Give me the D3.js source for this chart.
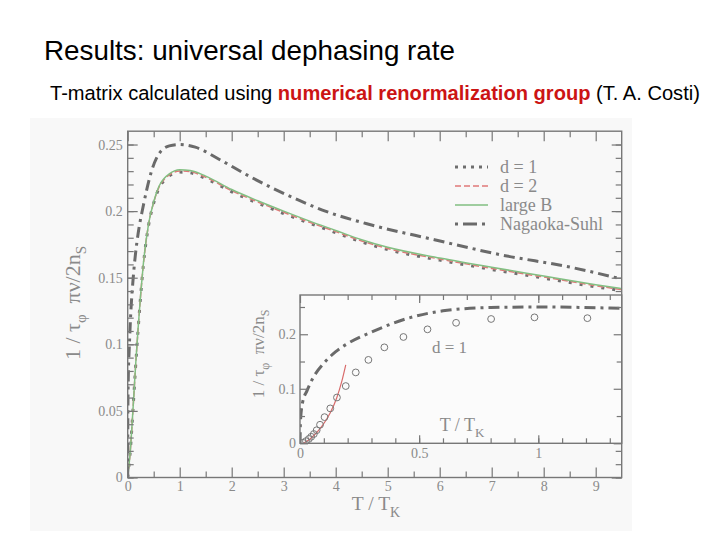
<!DOCTYPE html>
<html>
<head>
<meta charset="utf-8">
<script src="https://cdnjs.cloudflare.com/ajax/libs/d3/7.8.5/d3.min.js"></script>
<style>
  body { margin: 0; background: #fff; }
  text { white-space: pre; }
</style>
</head>
<body>
<div id="chart"></div>
<script>
// ---- data ----
var mainT  = [0, 0.05, 0.1, 0.15, 0.2, 0.25, 0.3, 0.4, 0.5, 0.6, 0.7, 0.8, 0.9, 1.0, 1.2, 1.5, 2, 2.5, 3, 3.5, 4, 4.5, 5, 6, 7, 8, 9, 9.5];
var largeB = [0, 0.02, 0.05, 0.083, 0.112, 0.138, 0.16, 0.19, 0.207, 0.2185, 0.2245, 0.228, 0.2302, 0.231, 0.2305, 0.2263, 0.2162, 0.2078, 0.2, 0.1925, 0.1855, 0.1785, 0.1728, 0.1648, 0.1578, 0.1513, 0.1448, 0.1418];
var dTwo   = [0, 0.02, 0.05, 0.0825, 0.1115, 0.1375, 0.1595, 0.1895, 0.2065, 0.2178, 0.2238, 0.2272, 0.2293, 0.2301, 0.2296, 0.2254, 0.2153, 0.2069, 0.1991, 0.1916, 0.1846, 0.1776, 0.1719, 0.164, 0.157, 0.1505, 0.144, 0.141];
var dOne   = [0, 0.02, 0.05, 0.082, 0.111, 0.137, 0.159, 0.189, 0.206, 0.217, 0.223, 0.2265, 0.2285, 0.2293, 0.2288, 0.2245, 0.2145, 0.206, 0.1982, 0.1908, 0.1838, 0.1768, 0.1711, 0.1632, 0.1562, 0.1497, 0.1432, 0.1402];

var nsT = [0, 0.002, 0.01, 0.03, 0.06, 0.1, 0.15, 0.2, 0.3, 0.45, 0.6, 0.8, 1.0, 1.3, 1.8, 2.3, 2.8, 3.3, 3.8, 4.6, 5.9, 7.2, 8.5, 9.5];
var nsV = [0, 0.04, 0.073, 0.097, 0.124, 0.147, 0.168, 0.183, 0.204, 0.229, 0.243, 0.249, 0.25, 0.248, 0.238, 0.227, 0.217, 0.208, 0.2, 0.1905, 0.1785, 0.167, 0.158, 0.149];

// inset: NRG points for d = 1 and the low-T fit
var circT = [0.012, 0.025, 0.037, 0.047, 0.058, 0.07, 0.084, 0.103, 0.127, 0.155, 0.192, 0.234, 0.287, 0.354, 0.434, 0.535, 0.655, 0.802, 0.984, 1.206];
var circV = [0.001, 0.004, 0.008, 0.012, 0.017, 0.024, 0.034, 0.048, 0.064, 0.084, 0.105, 0.13, 0.153, 0.176, 0.195, 0.209, 0.221, 0.228, 0.231, 0.2295];
var fitT = [0.014, 0.03, 0.055, 0.09, 0.126, 0.154, 0.175, 0.192];
var fitV = [0, 0.004, 0.013, 0.03, 0.055, 0.083, 0.113, 0.144];

var legendNames = ["d = 1", "d = 2", "large B", "Nagaoka-Suhl"];

var mainXTicks = [0, 1, 2, 3, 4, 5, 6, 7, 8, 9];
var mainYTicks = [0, 0.05, 0.1, 0.15, 0.2, 0.25];
var insetXTicks = [0, 0.5, 1];
var insetYTicks = [0, 0.1, 0.2];

// ---- styles ----
var axisCol = "#777", labelCol = "#8a8a8a", serif = "'Liberation Serif', 'DejaVu Serif', serif";
var styles = {
  "d = 1":        {stroke: "#6e6e6e", width: 3,   dash: "3,8"},
  "d = 2":        {stroke: "#e07878", width: 1.5, dash: "6,3"},
  "large B":      {stroke: "#82bf82", width: 1.5, dash: null},
  "Nagaoka-Suhl": {stroke: "#6a6a6a", width: 3,   dash: "11,5,3,5"}
};

var svg = d3.select("#chart").append("svg")
    .attr("width", 720).attr("height", 540);

// slide text
svg.append("text")
    .attr("x", 44).attr("y", 60)
    .attr("font-family", "'Liberation Sans', Arial, sans-serif")
    .attr("font-size", 27.8)
    .text("Results: universal dephasing rate");

var sub = svg.append("text")
    .attr("x", 50).attr("y", 100)
    .attr("font-family", "'Liberation Sans', Arial, sans-serif")
    .attr("font-size", 20.1);
sub.append("tspan").text("T-matrix calculated using ");
sub.append("tspan").attr("fill", "#cc1414").attr("font-weight", "bold").text("numerical renormalization group");
sub.append("tspan").text(" (T. A. Costi)");

// figure panel
svg.append("rect")
    .attr("x", 30).attr("y", 118).attr("width", 602).attr("height", 413)
    .attr("fill", "#f8f8f8");

// ---- main plot ----
var x = d3.scaleLinear().domain([0, 9.5]).range([127.7, 621.7]);
var y = d3.scaleLinear().domain([0, 0.26]).range([477.5, 131.2]);

function frameAxes(g, xs, ys, opt) {
  var x0 = xs.range()[0], x1 = xs.range()[1], y0 = ys.range()[0], y1 = ys.range()[1];
  var fontSize = opt.fontSize;
  function clean(sel) {
    sel.select(".domain").remove();
    sel.selectAll("line").attr("stroke", axisCol).attr("stroke-width", 1.2);
    sel.selectAll("text").attr("fill", labelCol).attr("font-family", serif).attr("font-size", fontSize);
  }
  // minor ticks, all four sides
  g.append("g").attr("transform", "translate(0," + y0 + ")")
    .call(d3.axisBottom(xs).tickValues(opt.xMinor).tickSize(-opt.minor).tickFormat("")).call(clean);
  g.append("g").attr("transform", "translate(0," + y1 + ")")
    .call(d3.axisTop(xs).tickValues(opt.xMinor).tickSize(-opt.minor).tickFormat("")).call(clean);
  g.append("g").attr("transform", "translate(" + x0 + ",0)")
    .call(d3.axisLeft(ys).tickValues(opt.yMinor).tickSize(-opt.minor).tickFormat("")).call(clean);
  g.append("g").attr("transform", "translate(" + x1 + ",0)")
    .call(d3.axisRight(ys).tickValues(opt.yMinor).tickSize(-opt.minor).tickFormat("")).call(clean);
  // major ticks with labels
  g.append("g").attr("transform", "translate(0," + y0 + ")")
    .call(d3.axisBottom(xs).tickValues(opt.xMajor).tickSize(-opt.major).tickPadding(opt.xPad).tickFormat(d3.format(""))).call(clean);
  g.append("g").attr("transform", "translate(0," + y1 + ")")
    .call(d3.axisTop(xs).tickValues(opt.xMajor).tickSize(-opt.major).tickFormat("")).call(clean);
  g.append("g").attr("transform", "translate(" + x0 + ",0)")
    .call(d3.axisLeft(ys).tickValues(opt.yMajor).tickSize(-opt.major).tickPadding(opt.yPad).tickFormat(d3.format(""))).call(clean);
  g.append("g").attr("transform", "translate(" + x1 + ",0)")
    .call(d3.axisRight(ys).tickValues(opt.yMajor).tickSize(-opt.major).tickFormat("")).call(clean);
  g.append("rect")
    .attr("x", x0).attr("y", y1).attr("width", x1 - x0).attr("height", y0 - y1)
    .attr("fill", "none").attr("stroke", axisCol).attr("stroke-width", 1.4);
}

svg.append("clipPath").attr("id", "clipMain").append("rect")
    .attr("x", 127.7).attr("y", 131.2).attr("width", 494).attr("height", 346.3);

var mainSeries = [
  {name: "d = 1", t: mainT, v: dOne},
  {name: "d = 2", t: mainT, v: dTwo},
  {name: "large B", t: mainT, v: largeB},
  {name: "Nagaoka-Suhl", t: nsT, v: nsV}
];

var lineMain = d3.line()
    .x(function(d) { return x(d[0]); })
    .y(function(d) { return y(d[1]); })
    .curve(d3.curveMonotoneX);

svg.append("g").attr("clip-path", "url(#clipMain)")
  .selectAll("path")
  .data(mainSeries)
  .enter().append("path")
    .attr("d", function(s) { return lineMain(d3.zip(s.t, s.v)); })
    .attr("fill", "none")
    .attr("stroke", function(s) { return styles[s.name].stroke; })
    .attr("stroke-width", function(s) { return styles[s.name].width; })
    .attr("stroke-dasharray", function(s) { return styles[s.name].dash; });

frameAxes(svg.append("g"), x, y, {
  xMajor: mainXTicks, xMinor: d3.range(0.5, 9.5, 1),
  yMajor: mainYTicks, yMinor: d3.range(0, 0.26, 0.01),
  major: 10, minor: 6, xPad: 3.5, yPad: 5, fontSize: 14
});

// legend
var legend = svg.append("g")
  .selectAll("g")
  .data(legendNames)
  .enter().append("g")
    .attr("transform", function(d, i) { return "translate(455," + (167 + i * 19) + ")"; });

legend.append("line")
    .attr("x1", 0).attr("x2", 33)
    .attr("stroke", function(d) { return styles[d].stroke; })
    .attr("stroke-width", function(d) { return styles[d].width; })
    .attr("stroke-dasharray", function(d) { return d == "d = 1" ? "3,5" : d == "Nagaoka-Suhl" ? "3,5,14,5" : styles[d].dash; });

legend.append("text")
    .attr("x", 45).attr("y", 6)
    .attr("fill", labelCol)
    .attr("font-family", serif)
    .attr("font-size", 18)
    .text(function(d) { return d; });

// axis labels, main
var ylab = svg.append("text")
    .attr("transform", "translate(80,303) rotate(-90)")
    .attr("text-anchor", "middle")
    .attr("fill", labelCol).attr("font-family", serif).attr("font-size", 22);
ylab.append("tspan").text("1 / τ");
ylab.append("tspan").attr("font-size", 15).attr("dy", 6).text("φ");
ylab.append("tspan").attr("dy", -6).text("  πν/2n");
ylab.append("tspan").attr("font-size", 15).attr("dy", 6).text("S");

var xlab = svg.append("text")
    .attr("x", 376).attr("y", 510)
    .attr("text-anchor", "middle")
    .attr("fill", labelCol).attr("font-family", serif).attr("font-size", 19.5);
xlab.append("tspan").text("T / T");
xlab.append("tspan").attr("font-size", 14).attr("dy", 7).text("K");

// ---- inset ----
var xi = d3.scaleLinear().domain([0, 1.35]).range([300, 621.7]);
var yi = d3.scaleLinear().domain([0, 0.272]).range([443.3, 295]);

svg.append("rect")
    .attr("x", 300).attr("y", 295).attr("width", 321.7).attr("height", 148.3)
    .attr("fill", "#fbfbfb");

svg.append("clipPath").attr("id", "clipInset").append("rect")
    .attr("x", 300).attr("y", 295).attr("width", 321.7).attr("height", 148.3);

var gi = svg.append("g").attr("clip-path", "url(#clipInset)");

var lineInset = d3.line()
    .x(function(d) { return xi(d[0]); })
    .y(function(d) { return yi(d[1]); })
    .curve(d3.curveMonotoneX);

gi.append("path")
    .attr("d", lineInset(d3.zip(nsT, nsV)))
    .attr("fill", "none")
    .attr("stroke", styles["Nagaoka-Suhl"].stroke)
    .attr("stroke-width", 3)
    .attr("stroke-dasharray", "11,5,3,5");

gi.append("path")
    .attr("d", lineInset(d3.zip(fitT, fitV)))
    .attr("fill", "none")
    .attr("stroke", "#d86a6a")
    .attr("stroke-width", 1.2);

gi.selectAll("circle")
  .data(d3.zip(circT, circV))
  .enter().append("circle")
    .attr("cx", function(d) { return xi(d[0]); })
    .attr("cy", function(d) { return yi(d[1]); })
    .attr("r", 3.4)
    .attr("fill", "none")
    .attr("stroke", "#777")
    .attr("stroke-width", 1);

frameAxes(svg.append("g"), xi, yi, {
  xMajor: insetXTicks, xMinor: d3.range(0.1, 1.35, 0.1),
  yMajor: insetYTicks, yMinor: [0.05, 0.15, 0.25],
  major: 8, minor: 5, xPad: 5, yPad: 4, fontSize: 14
});

svg.append("text")
    .attr("x", 432).attr("y", 353)
    .attr("fill", labelCol).attr("font-family", serif).attr("font-size", 17)
    .text("d = 1");

var xlabI = svg.append("text")
    .attr("x", 462).attr("y", 431)
    .attr("text-anchor", "middle")
    .attr("fill", labelCol).attr("font-family", serif).attr("font-size", 18);
xlabI.append("tspan").text("T / T");
xlabI.append("tspan").attr("font-size", 13).attr("dy", 6).text("K");

var ylabI = svg.append("text")
    .attr("transform", "translate(264,354) rotate(-90)")
    .attr("text-anchor", "middle")
    .attr("fill", labelCol).attr("font-family", serif).attr("font-size", 17);
ylabI.append("tspan").text("1 / τ");
ylabI.append("tspan").attr("font-size", 12).attr("dy", 5).text("φ");
ylabI.append("tspan").attr("dy", -5).text("  πν/2n");
ylabI.append("tspan").attr("font-size", 12).attr("dy", 5).text("S");
</script>
</body>
</html>
